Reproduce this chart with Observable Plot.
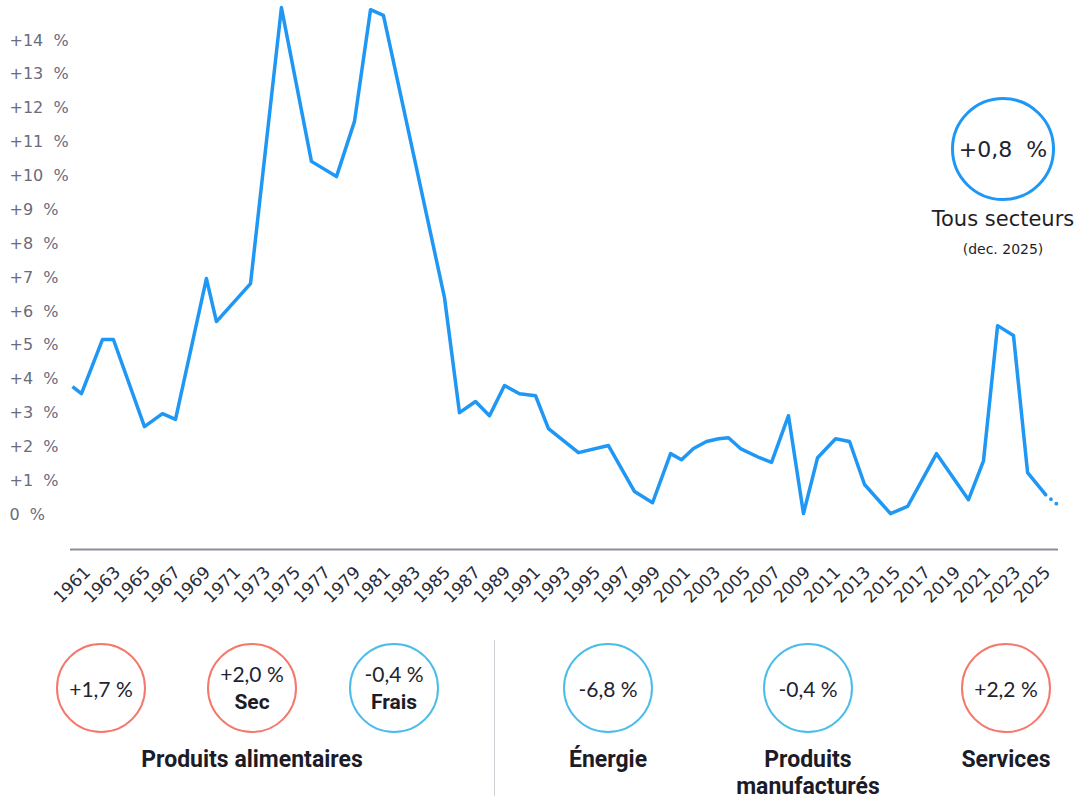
<!DOCTYPE html>
<html>
<head>
<meta charset="utf-8">
<script src="https://cdn.jsdelivr.net/npm/d3@7"></script>
<script src="https://cdn.jsdelivr.net/npm/@observablehq/plot@0.6"></script>
<style>
  html, body { margin: 0; padding: 0; background: #fff; }
  #wrap { position: relative; width: 1085px; height: 799px; overflow: hidden; font-family: "DejaVu Sans", sans-serif; }
  #chart { position: absolute; left: 0; top: 0; }
  .abs { position: absolute; }
  .circle { position: absolute; border-radius: 50%; box-sizing: border-box; display: flex; flex-direction: column; align-items: center; justify-content: center; }
  .num { font-family: "Lato", "Open Sans", sans-serif; font-weight: 400; font-size: 21px; color: #23232f; line-height: 1.0; }
  .sub { font-family: "Roboto", "Lato", sans-serif; font-weight: 700; font-size: 21px; color: #1c1c28; line-height: 1.0; margin-top: 8px; }
  .lab { position: absolute; text-align: center; font-family: "Roboto", "Lato", sans-serif; font-weight: 700; font-size: 23px; color: #1c1c28; line-height: 27px; white-space: nowrap; transform: translateX(-50%); }
</style>
</head>
<body>
<div id="wrap">
  <div id="chart"></div>
</div>
<script>
// ---- data (x = position in years, y = % change) ----
const dates = [1960.2, 1960.8, 1962.2, 1962.93, 1965.0, 1966.2, 1967.07, 1969.13, 1969.8, 1972.07,
  1974.13, 1976.13, 1977.8, 1979.0, 1980.07, 1980.93, 1985.0, 1986.0, 1987.07, 1988.0,
  1989.0, 1990.0, 1991.07, 1991.93, 1993.93, 1995.93, 1997.67, 1998.87, 2000.07, 2000.8,
  2001.6, 2002.47, 2003.27, 2003.93, 2004.73, 2006.0, 2006.8, 2007.93, 2008.93, 2009.87,
  2011.07, 2012.0, 2013.0, 2014.73, 2015.87, 2017.8, 2019.93, 2020.93, 2021.87, 2022.93,
  2023.87, 2025.07, 2025.93];
const inflation = [3.78, 3.57, 5.17, 5.17, 2.60, 2.98, 2.81, 6.97, 5.70, 6.82,
  14.97, 10.43, 9.98, 11.61, 14.91, 14.74, 6.41, 3.01, 3.34, 2.92,
  3.81, 3.57, 3.51, 2.54, 1.83, 2.04, 0.68, 0.35, 1.80, 1.62,
  1.95, 2.16, 2.24, 2.27, 1.95, 1.68, 1.54, 2.92, 0.03, 1.68,
  2.24, 2.16, 0.89, 0.03, 0.24, 1.80, 0.44, 1.59, 5.58, 5.29,
  1.24, 0.59, 0.27];
const yearTicks = [1961, 1963, 1965, 1967, 1969, 1971, 1973, 1975, 1977, 1979, 1981, 1983, 1985,
  1987, 1989, 1991, 1993, 1995, 1997, 1999, 2001, 2003, 2005, 2007, 2009, 2011, 2013, 2015,
  2017, 2019, 2021, 2023, 2025];
const pctTicks = [0, 1, 2, 3, 4, 5, 6, 7, 8, 9, 10, 11, 12, 13, 14];

const headline = { value: "+0,8\u00a0\u00a0%", label: "Tous secteurs", note: "(dec. 2025)" };
const sectorValues = ["+1,7 %", "+2,0 %", "-0,4 %", "-6,8 %", "-0,4 %", "+2,2 %"];
const sectorSubs = ["", "Sec", "Frais", "", "", ""];
const sectorUp = [true, true, false, false, false, true];
const groupLabels = ["Produits alimentaires", "Énergie", "Produits<br>manufacturés", "Services"];

// ---- build tables ----
const series = dates.map((d, i) => ({ date: d, value: inflation[i] }));
const solid = series.slice(0, series.length - 1);
const provisional = series.slice(series.length - 2);

const BLUE = "#1f97f4";
const yDomain = [-1.03, 15.18];

const chart = Plot.plot({
  width: 1085,
  height: 620,
  marginLeft: 70,
  marginRight: 27,
  marginTop: 0,
  marginBottom: 71,
  style: { background: "transparent", overflow: "visible" },
  x: { domain: [1960.07, 2025.93] },
  y: { domain: yDomain },
  marks: [
    Plot.axisY({
      ticks: pctTicks,
      tickFormat: d => (d === 0 ? "0" : "+" + d) + "\u00a0\u00a0%",
      tickSize: 0,
      textAnchor: "start",
      dx: -52,
      fontSize: 16,
      fill: "#6b6b7c",
      fontFamily: "DejaVu Sans",
      label: null
    }),
    Plot.axisX({
      ticks: yearTicks,
      tickFormat: d => String(d),
      tickRotate: -45,
      tickSize: 0,
      tickPadding: 20,
      dx: 3,
      fontSize: 17,
      fill: "#2b2b36",
      fontFamily: "DejaVu Sans",
      label: null
    }),
    Plot.ruleY([yDomain[0]], { stroke: "#8d8d99", strokeWidth: 2 }),
    Plot.line(solid, { x: "date", y: "value", stroke: BLUE, strokeWidth: 3.5, strokeLinejoin: "round", strokeLinecap: "butt" }),
    Plot.line(provisional, { x: "date", y: "value", stroke: BLUE, strokeWidth: 3.8, strokeDasharray: "0 7", strokeLinecap: "round" })
  ]
});
document.getElementById("chart").appendChild(chart);

// ---- overlays (headline circle and sector circles) ----
const wrap = document.getElementById("wrap");
function add(html) { wrap.insertAdjacentHTML("beforeend", html); }

add(`<div class="circle" style="left:951px;top:97px;width:104px;height:104px;border:3px solid ${BLUE};">
  <span style="font-family:'DejaVu Sans';font-size:22px;color:#23232f;">${headline.value}</span></div>`);
add(`<div class="abs" style="left:900px;width:206px;top:207px;text-align:center;font-family:'DejaVu Sans';font-size:21px;color:#1f1f2a;">${headline.label}</div>`);
add(`<div class="abs" style="left:900px;width:206px;top:241px;text-align:center;font-family:'DejaVu Sans';font-size:14px;color:#1f1f2a;">${headline.note}</div>`);

const centers = [101, 252, 394, 608, 808, 1006];
sectorValues.forEach((v, i) => {
  const col = sectorUp[i] ? "#f5786c" : "#4cbde9";
  const sub = sectorSubs[i] ? `<span class="sub">${sectorSubs[i]}</span>` : "";
  add(`<div class="circle" style="left:${centers[i] - 45}px;top:643px;width:90px;height:90px;border:2.5px solid ${col};">
    <span class="num">${v}</span>${sub}</div>`);
});
const labelCenters = [252, 608, 808, 1006];
groupLabels.forEach((g, i) => {
  add(`<div class="lab" style="left:${labelCenters[i]}px;top:746px;">${g}</div>`);
});
add(`<div class="abs" style="left:494px;top:640px;width:1px;height:156px;background:#cfcfd6;"></div>`);
</script>
</body>
</html>
